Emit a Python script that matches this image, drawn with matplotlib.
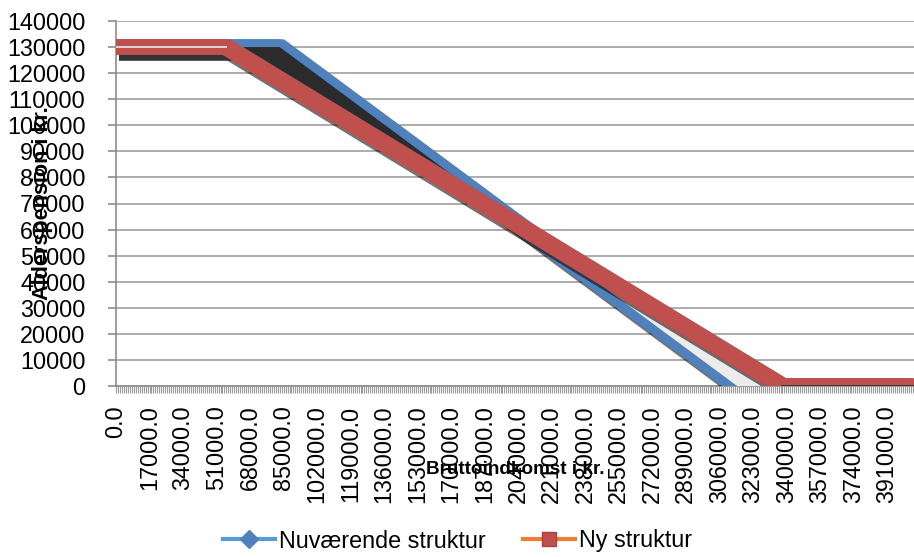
import numpy as np
import matplotlib
matplotlib.use("Agg")
import matplotlib.pyplot as plt
from matplotlib.lines import Line2D
from matplotlib.transforms import offset_copy

plt.rcParams['font.family'] = ['Liberation Sans', 'DejaVu Sans']

# knaekpunkter aflaest fra grafen (bruttoindkomst, alderspension)
nuv_x = [0, 83000, 315000, 404000]
nuv_y = [130000, 130000, 0, 0]
ny_x = [0, 56000, 338000, 404000]
ny_y = [130000, 130000, 0, 0]

kategorier = np.arange(0, 405000, 1000)
tick_pos = [0, 17000, 34000, 51000, 68000, 85000, 102000, 119000, 136000, 153000,
            170000, 187000, 204000, 221000, 238000, 255000, 272000, 289000, 306000,
            323000, 340000, 357000, 374000, 391000]
tick_labels = ["0.0", "17000.0", "34000.0", "51000.0", "68000.0", "85000.0",
               "102000.0", "119000.0", "136000.0", "153000.0", "170000.0",
               "187000.0", "204000.0", "221000.0", "238000.0", "255000.0",
               "272000.0", "289000.0", "306000.0", "323000.0", "340000.0",
               "357000.0", "374000.0", "391000.0"]
y_ticks = [0, 10000, 20000, 30000, 40000, 50000, 60000, 70000,
           80000, 90000, 100000, 110000, 120000, 130000, 140000]

blaa = '#4F81BD'
roed = '#C0504D'
fs = 16.8

fig = plt.figure(figsize=(9.14, 5.57), dpi=100)
ax = fig.add_axes([116/914, 1-386/557, (914-116)/914, (386-21)/557])


def band(x, y, color, z, lw=11, dx=2):
    # bred streg der ligner en raekke markoerer
    sh = offset_copy(ax.transData, fig=fig, x=3, y=-6, units='dots')
    ax.plot(x, y, color='black', alpha=0.55, lw=lw, transform=sh, zorder=z-0.5,
            solid_capstyle='butt')
    for off in (-dx, 0, dx):
        tr = offset_copy(ax.transData, fig=fig, x=off, y=0, units='dots')
        ax.plot(x, y, color=color, lw=lw, transform=tr, zorder=z,
                solid_capstyle='butt', solid_joinstyle='miter')


band(nuv_x, nuv_y, blaa, 3)

# op/ned-soejler mellem de to serier
fx = np.union1d(nuv_x, ny_x)
fn = np.interp(fx, nuv_x, nuv_y)
fy = np.interp(fx, ny_x, ny_y)
ax.fill_between(fx, fn, fy, where=fn >= fy, interpolate=True,
                color='#2b2b2b', lw=0, zorder=4)
ax.fill_between(fx, fn, fy, where=fy >= fn, interpolate=True,
                color='#ececec', lw=0, zorder=4)

band(ny_x, ny_y, roed, 6)

# soejler med hoejde nul hvor serierne falder sammen
lige = fn == fy
ax.plot(fx[lige][:2], fy[lige][:2], color='#e2e2e2', lw=1.3, zorder=7)
ax.plot(fx[lige][-2:], fy[lige][-2:], color='#333333', lw=1.3, zorder=7)

ax.set_xlim(0, 404700)
ax.set_ylim(0, 140000)
ax.set_yticks(y_ticks)
ax.set_yticklabels([str(v) for v in y_ticks])
ax.set_xticks(kategorier, minor=True)
ax.set_xticks(tick_pos)
ax.set_xticklabels(tick_labels, rotation=90, va='top')
ax.grid(axis='y', color='#a6a6a6', lw=1.3, zorder=0)
ax.set_axisbelow(True)
for s in ['top', 'right']:
    ax.spines[s].set_visible(False)
for s in ['left', 'bottom']:
    ax.spines[s].set_color('#8c8c8c')
    ax.spines[s].set_linewidth(1.2)
    ax.spines[s].set_zorder(2)
ax.tick_params(axis='y', length=6, color='#8c8c8c', width=1.2, pad=16, labelsize=fs)
ax.tick_params(axis='x', which='both', length=5, color='#9a9a9a', width=0.8,
               pad=9, labelsize=fs)

fig.text(43/914, 1-203/557, 'Alderspension i kr.', rotation=90, fontsize=15.6,
         fontweight='bold', ha='center', va='center')
fig.text(515/914, 1-470/557, 'Bruttoindkomst i kr.', fontsize=13.6,
         fontweight='bold', ha='center', va='center')

handles = [Line2D([], [], color='#5B9BD5', lw=3, marker='D', ms=9,
                  mfc=blaa, mec=blaa),
           Line2D([], [], color='#ED7D31', lw=3, marker='s', ms=10,
                  mfc=roed, mec='#B03F3B')]
fig.legend(handles, ['Nuværende struktur', 'Ny struktur'], loc='center',
           bbox_to_anchor=(458/914, 1-541/557), ncol=2, frameon=False,
           fontsize=fs, handlelength=2.2, handletextpad=0.2, columnspacing=1.6)

fig.savefig('out.png', dpi=100)
